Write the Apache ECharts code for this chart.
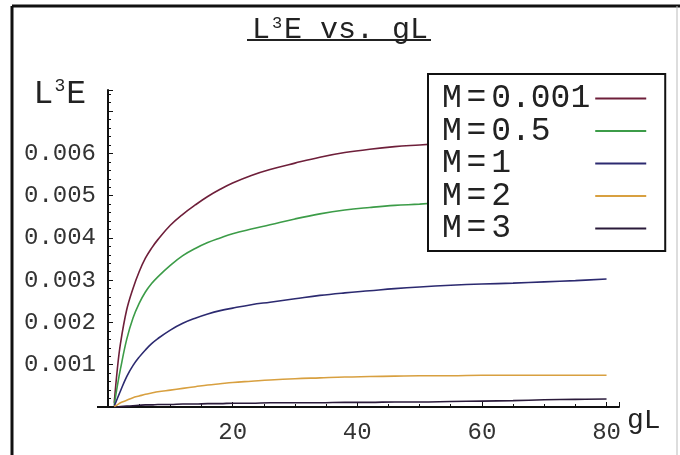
<!DOCTYPE html>
<html>
<head>
<meta charset="utf-8">
<script src="https://cdn.jsdelivr.net/npm/echarts@6/dist/echarts.min.js"></script>
<style>
  html, body { margin: 0; padding: 0; background: #fff; }
  #chart { width: 680px; height: 455px; }
</style>
</head>
<body>
<div id="chart"></div>
<script>
// gL samples and L^3 E values
const gL = [1, 1.5, 2, 3, 4, 5, 6, 7, 8, 10, 12, 14, 16, 18, 20, 23, 26, 30, 34, 38, 42, 46, 50, 55, 60, 65, 70, 75, 80]
const names = ['M = 0.001', 'M = 0.5', 'M = 1', 'M = 2', 'M = 3']
const m0001 = [0.0001, 0.0009, 0.0015, 0.0023, 0.0028, 0.0032, 0.00352, 0.00376, 0.00396, 0.0043, 0.00456, 0.00478, 0.00498, 0.00515, 0.0053, 0.00548, 0.00562, 0.00577, 0.00591, 0.00602, 0.0061, 0.00616, 0.0062, 0.00625, 0.00629, 0.00632, 0.00635, 0.00638, 0.0064]
const m05 = [0.00005, 0.0005, 0.0009, 0.0016, 0.0021, 0.00245, 0.00272, 0.00292, 0.00308, 0.00335, 0.00358, 0.00375, 0.00389, 0.004, 0.0041, 0.00421, 0.00431, 0.00445, 0.00457, 0.00466, 0.00472, 0.00477, 0.0048, 0.00485, 0.00489, 0.00492, 0.00495, 0.00497, 0.005]
const m1 = [0.00002, 0.0002, 0.00038, 0.00072, 0.00098, 0.00118, 0.00135, 0.0015, 0.00162, 0.00182, 0.00198, 0.0021, 0.0022, 0.00228, 0.00234, 0.00242, 0.00248, 0.00256, 0.00264, 0.0027, 0.00275, 0.0028, 0.00284, 0.00288, 0.00291, 0.00293, 0.00296, 0.00299, 0.00303]
const m2 = [0.00001, 0.00005, 0.0001, 0.00016, 0.00022, 0.00026, 0.0003, 0.00033, 0.00036, 0.0004, 0.00044, 0.00048, 0.00052, 0.00055, 0.00058, 0.00061, 0.00064, 0.00067, 0.00069, 0.00071, 0.00072, 0.00073, 0.00074, 0.00074, 0.00075, 0.00075, 0.00075, 0.00075, 0.00075]
const m3 = [0, 0.000005, 0.00001, 0.00002, 0.00003, 0.00004, 0.00005, 0.00005, 0.00006, 0.00006, 0.00007, 0.00007, 0.00008, 0.00008, 0.00009, 0.00009, 0.0001, 0.0001, 0.0001, 0.00011, 0.00011, 0.00012, 0.00012, 0.00013, 0.00014, 0.00015, 0.00017, 0.00018, 0.00019]
const colors = ['#6e1f3a', '#3c9c48', '#2c2a70', '#d8a040', '#2a1a3a']

const mono = 'Liberation Mono'
const allData = [m0001, m05, m1, m2, m3]

const chart = echarts.init(document.getElementById('chart'))
chart.setOption({
  animation: false,
  backgroundColor: '#fff',
  title: {
    text: '{a|L}{s|3}{a|E vs. gL}',
    left: 'center',
    top: 10,
    textStyle: {
      rich: {
        a: { fontFamily: mono, fontSize: 30, fontWeight: 'normal', color: '#222', lineHeight: 30 },
        s: { fontFamily: mono, fontSize: 17, fontWeight: 'normal', color: '#222', lineHeight: 30, padding: [0, 2, 14, 2] }
      }
    }
  },
  grid: { left: 108, right: 61, top: 90, bottom: 48 },
  legend: {
    data: names,
    orient: 'vertical',
    align: 'right',
    left: 428,
    top: 74,
    padding: [8, 19, 6, 14],
    itemGap: -0.5,
    itemWidth: 51,
    itemHeight: 2,
    icon: 'rect',
    backgroundColor: '#fff',
    borderColor: '#111',
    borderWidth: 2,
    formatter: function (name) {
      const v = name.split('= ')[1]
      return '{t|M}{s| }{t|=}{s| }{t|' + v.padEnd(5, ' ') + '}'
    },
    textStyle: {
      rich: {
        t: { fontFamily: mono, fontSize: 33, color: '#222', lineHeight: 26 },
        s: { fontFamily: mono, fontSize: 8, lineHeight: 26 }
      }
    }
  },
  xAxis: {
    type: 'value',
    min: 0,
    max: 82,
    interval: 20,
    name: 'gL',
    nameLocation: 'end',
    nameGap: 8,
    nameTextStyle: { fontFamily: mono, fontSize: 28, color: '#222', verticalAlign: 'top' },
    axisLine: { lineStyle: { color: '#111', width: 2 } },
    axisTick: { inside: true, length: 5, lineStyle: { color: '#111' } },
    minorTick: { show: true, splitNumber: 4, length: 3, lineStyle: { color: '#111' } },
    splitLine: { show: false },
    axisLabel: {
      margin: 14,
      fontFamily: mono,
      fontSize: 24,
      color: '#333',
      formatter: v => (v === 0 ? '' : String(v))
    }
  },
  yAxis: {
    type: 'value',
    min: 0,
    max: 0.0075,
    interval: 0.001,
    name: '{a|L}{s|3}{a|E}',
    nameLocation: 'end',
    nameGap: -4,
    nameTextStyle: {
      align: 'right',
      verticalAlign: 'middle',
      padding: [0, 22, 0, 0],
      rich: {
        a: { fontFamily: mono, fontSize: 33, color: '#222', lineHeight: 30 },
        s: { fontFamily: mono, fontSize: 18, color: '#222', lineHeight: 30, padding: [0, 1, 16, 1] }
      }
    },
    axisLine: { show: true, lineStyle: { color: '#111', width: 2 } },
    axisTick: { show: true, inside: true, length: 5, lineStyle: { color: '#111' } },
    minorTick: { show: true, splitNumber: 5, length: 3, lineStyle: { color: '#111' } },
    splitLine: { show: false },
    axisLabel: {
      margin: 12,
      fontFamily: mono,
      fontSize: 24,
      color: '#333',
      formatter: v => (v === 0 || v > 0.0065 ? '' : v.toFixed(3))
    }
  },
  graphic: [
    { type: 'line', shape: { x1: 12, y1: 6, x2: 680, y2: 6 }, style: { stroke: '#111', lineWidth: 3 } },
    { type: 'line', shape: { x1: 12, y1: 6, x2: 12, y2: 455 }, style: { stroke: '#111', lineWidth: 3 } },
    { type: 'line', shape: { x1: 677, y1: 6, x2: 677, y2: 455 }, style: { stroke: '#bbb', lineWidth: 1 } },
    { type: 'line', shape: { x1: 247, y1: 40, x2: 431, y2: 40 }, style: { stroke: '#222', lineWidth: 2 } },
    { type: 'line', shape: { x1: 97, y1: 407, x2: 108, y2: 407 }, style: { stroke: '#111', lineWidth: 2 } }
  ],
  series: names.map((n, i) => ({
    name: n,
    type: 'line',
    symbol: 'none',
    smooth: 0.4,
    color: colors[i],
    lineStyle: { width: 1.6, color: colors[i] },
    z: i === 4 ? 1 : 2,
    data: gL.map((x, j) => [x, allData[i][j]])
  }))
})
</script>
</body>
</html>
